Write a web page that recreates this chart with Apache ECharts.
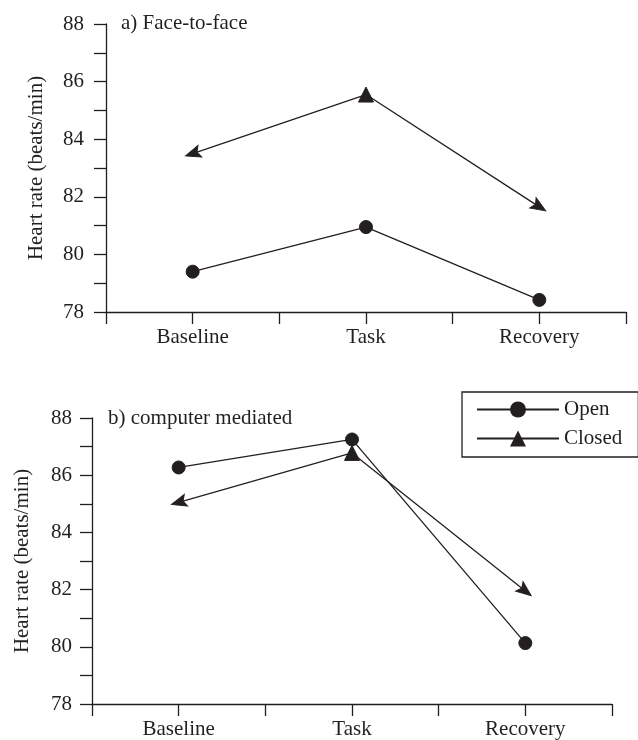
<!DOCTYPE html>
<html><head><meta charset="utf-8">
<script src="https://cdn.jsdelivr.net/npm/echarts@6/dist/echarts.min.js"></script>
<style>html,body{margin:0;padding:0;background:#fff}#c{width:638px;height:740px}</style>
</head><body><div id="c"></div>
<script>
const categories = ['Baseline', 'Task', 'Recovery'];
const openFace = [79.4, 80.95, 78.42];
const closedFace = [83.5, 85.55, 81.65];
const openComputer = [86.27, 87.25, 80.13];
const closedComputer = [85.05, 86.78, 81.95];
const yTicks = [78, 80, 82, 84, 86, 88];
const panelTitles = ['a) Face-to-face', 'b) computer mediated'];
const seriesNames = ['Open', 'Closed'];
const yName = 'Heart rate (beats/min)';

const INK = '#231f20';
const FONT = '"Liberation Serif", "Times New Roman", serif';
const FS = 21;
// arrow-head look of the closed markers (style only)
const arrowRotTop = [108, 0, -122];
const arrowRotBottom = [106, 0, -128];

function pos(i) { return 2 * i + 1; }
function openData(vals) { return vals.map((v, i) => [pos(i), v]); }
function closedData(vals, rots) {
  return vals.map((v, i) => {
    const d = { value: [pos(i), v] };
    if (i !== 1) { d.symbol = 'path://M0,20 L10,0 L20,20 L10,16 Z'; d.symbolRotate = rots[i]; d.symbolSize = [12, 15]; }
    return d;
  });
}

function xAxis(gi) {
  return {
    type: 'value', gridIndex: gi, min: 0, max: 6, interval: 1,
    axisLine: { lineStyle: { color: INK, width: 1.3 } },
    axisTick: { show: true, length: 12, lineStyle: { color: INK, width: 1.3 } },
    splitLine: { show: false },
    axisLabel: {
      color: INK, fontFamily: FONT, fontSize: FS, margin: 15,
      formatter: v => (v % 2 === 1 ? categories[(v - 1) / 2] : '')
    }
  };
}
function yAxis(gi, margin, gap) {
  return {
    type: 'value', gridIndex: gi, min: yTicks[0], max: yTicks[yTicks.length - 1], interval: 1,
    axisLine: { show: true, lineStyle: { color: INK, width: 1.3 } },
    axisTick: { show: true, length: 12, lineStyle: { color: INK, width: 1.3 } },
    splitLine: { show: false },
    axisLabel: {
      color: INK, fontFamily: FONT, fontSize: FS, margin: margin,
      formatter: v => (yTicks.indexOf(v) >= 0 ? String(v) : '')
    },
    name: yName, nameLocation: 'middle', nameGap: gap, nameRotate: 90,
    nameTextStyle: { color: INK, fontFamily: FONT, fontSize: FS }
  };
}
function lineSeries(name, data, gi, symbol, size) {
  return {
    type: 'line', name: name, xAxisIndex: gi, yAxisIndex: gi, data: data,
    symbol: symbol, symbolSize: size, showSymbol: true,
    lineStyle: { color: INK, width: 1.3 },
    itemStyle: { color: INK, borderColor: INK },
    emphasis: { disabled: true }, animation: false, z: 3
  };
}

const chart = echarts.init(document.getElementById('c'), null, { renderer: 'canvas' });
chart.setOption({
  backgroundColor: '#fff',
  animation: false,
  grid: [
    { left: 106, top: 24, width: 520, height: 288 },
    { left: 92, top: 418, width: 520, height: 286 }
  ],
  xAxis: [xAxis(0), xAxis(1)],
  yAxis: [yAxis(0, 22, 59), yAxis(1, 20, 59)],
  title: [
    { text: panelTitles[0], left: 121, top: 13, padding: 0, textStyle: { color: INK, fontFamily: FONT, fontSize: FS, fontWeight: 'normal' } },
    { text: panelTitles[1], left: 108, top: 408, padding: 0, textStyle: { color: INK, fontFamily: FONT, fontSize: FS, fontWeight: 'normal' } }
  ],
  legend: {
    data: seriesNames, orient: 'vertical', left: 462, top: 392,
    padding: [7, 16, 8, 14], itemGap: 8, itemWidth: 82, itemHeight: 20,
    borderColor: INK, borderWidth: 1.3, borderRadius: 0,
    textStyle: { color: INK, fontFamily: FONT, fontSize: FS, lineHeight: 21 },
    selectedMode: false
  },
  series: [
    lineSeries(seriesNames[0], openData(openFace), 0, 'circle', 13),
    lineSeries(seriesNames[1], closedData(closedFace, arrowRotTop), 0, 'triangle', 15),
    lineSeries(seriesNames[0], openData(openComputer), 1, 'circle', 13),
    lineSeries(seriesNames[1], closedData(closedComputer, arrowRotBottom), 1, 'triangle', 15)
  ]
});
</script></body></html>
